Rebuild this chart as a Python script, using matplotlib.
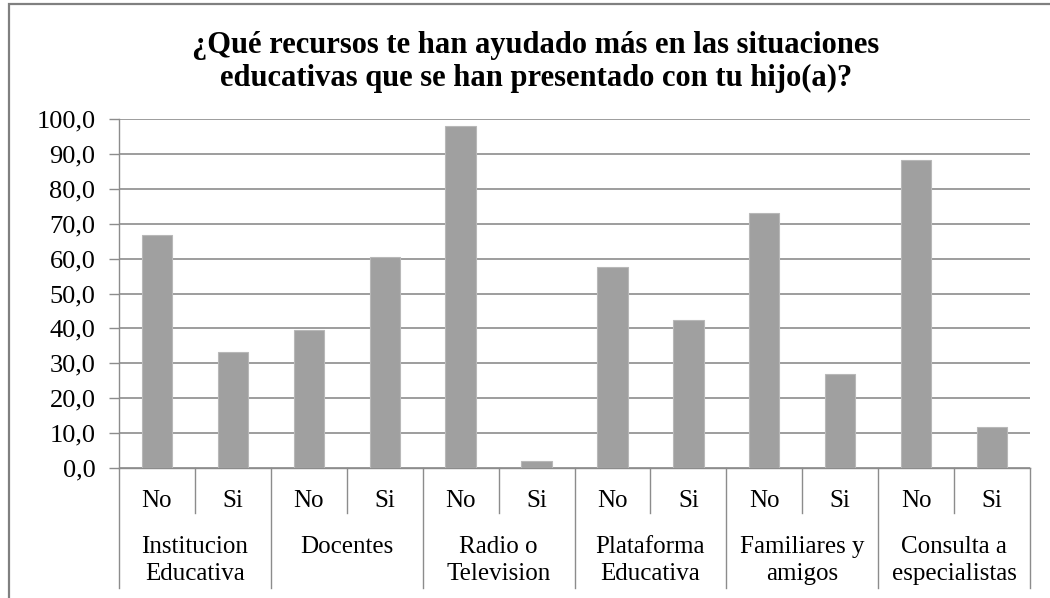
import numpy as np
import matplotlib.pyplot as plt
import matplotlib.transforms as mtransforms
from matplotlib.patches import Rectangle

plt.rcParams['font.family'] = ['Liberation Serif', 'DejaVu Serif']

groups = ["Institucion\nEducativa", "Docentes", "Radio o\nTelevision",
          "Plataforma\nEducativa", "Familiares y\namigos", "Consulta a\nespecialistas"]
answers = ["No", "Si"]
no_vals = [66.7, 39.4, 98.0, 57.6, 73.1, 88.2]
si_vals = [33.3, 60.6, 2.0, 42.4, 26.9, 11.8]

values = []
for n, s in zip(no_vals, si_vals):
    values += [n, s]
labels = answers * len(groups)

fig = plt.figure(figsize=(10.5, 5.98), dpi=100)
ax = fig.add_axes([119/1050, 1 - 468/598, (1030-119)/1050, (468-119)/598])

grid_col = '#8c8c8c'
x = np.arange(len(values)) + 0.5
ax.bar(x, values, width=0.4, color='#a0a0a0', edgecolor='#b8b8b8', linewidth=0.8, zorder=3)

ax.set_xlim(0, len(values))
ax.set_ylim(0, 100)
ax.set_yticks(np.arange(0, 101, 10))
ax.set_yticklabels([f"{v:.1f}".replace('.', ',') for v in np.arange(0, 101, 10)])
ax.yaxis.grid(True, color=grid_col, linewidth=1.2, zorder=0)
ax.tick_params(axis='y', labelsize=19, length=7, width=1, color=grid_col, pad=10)
ax.set_xticks([])
for side in ['top', 'right']:
    ax.spines[side].set_visible(False)
for side in ['left', 'bottom']:
    ax.spines[side].set_color(grid_col)
    ax.spines[side].set_linewidth(1)

# two-level category axis below the bars
trans = mtransforms.blended_transform_factory(ax.transData, ax.transAxes)
for i in range(len(values) + 1):
    y_end = -0.344 if i % 2 == 0 else -0.129
    ax.plot([i, i], [0, y_end], color=grid_col, linewidth=1, transform=trans, clip_on=False)
for xi, lab in zip(x, labels):
    ax.text(xi, -0.095, lab, transform=trans, ha='center', va='center', fontsize=18)
for g, name in enumerate(groups):
    ax.text(2 * g + 1, -0.195, name, transform=trans, ha='center', va='top',
            fontsize=18, linespacing=1.3)

fig.text(536/1050, 1 - 62/598,
         "¿Qué recursos te han ayudado más en las situaciones\n"
         "educativas que se han presentado con tu hijo(a)?",
         ha='center', va='center', fontsize=22, fontweight='bold', linespacing=1.2)

# chart frame
fig.patches.append(Rectangle((9/1050, -0.1), 1.2, 1 - 4/598 + 0.1, transform=fig.transFigure,
                             fill=False, edgecolor='#808080', linewidth=1.6))

fig.savefig('out.png', dpi=100, facecolor='white')
